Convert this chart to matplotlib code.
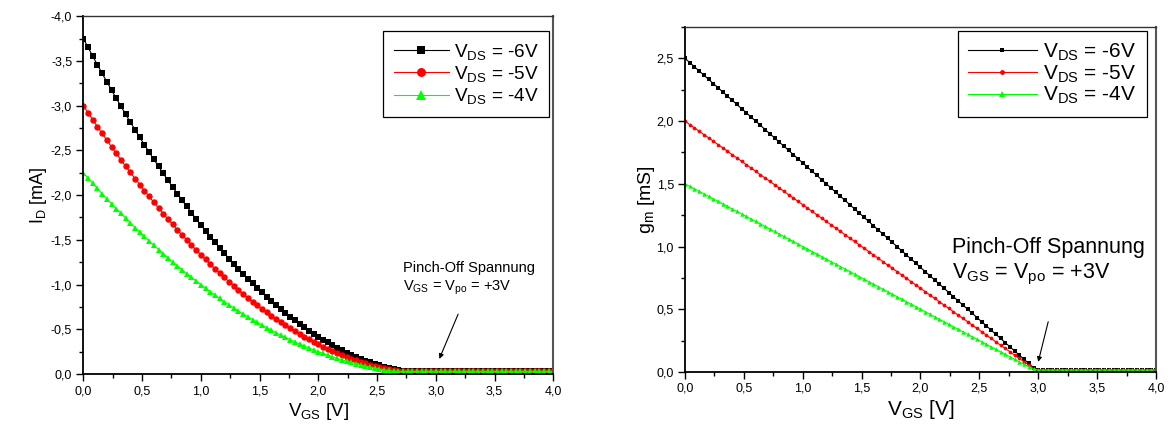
import matplotlib
matplotlib.use("Agg")
import matplotlib.pyplot as plt
from matplotlib.ticker import MultipleLocator, FuncFormatter

plt.rcParams['font.family'] = ['Liberation Sans', 'DejaVu Sans']
plt.rcParams['mathtext.fontset'] = 'custom'
plt.rcParams['mathtext.rm'] = 'Liberation Sans'
plt.rcParams['mathtext.it'] = 'Liberation Sans'
plt.rcParams['mathtext.bf'] = 'Liberation Sans:bold'

# ---------------- data ----------------
vgs = [0.00, 0.04, 0.08, 0.12, 0.16, 0.20, 0.24, 0.28, 0.32, 0.36, 0.40, 0.44, 0.48, 0.52, 0.56,
       0.60, 0.64, 0.68, 0.72, 0.76, 0.80, 0.84, 0.88, 0.92, 0.96, 1.00, 1.04, 1.08, 1.12, 1.16,
       1.20, 1.24, 1.28, 1.32, 1.36, 1.40, 1.44, 1.48, 1.52, 1.56, 1.60, 1.64, 1.68, 1.72, 1.76,
       1.80, 1.84, 1.88, 1.92, 1.96, 2.00, 2.04, 2.08, 2.12, 2.16, 2.20, 2.24, 2.28, 2.32, 2.36,
       2.40, 2.44, 2.48, 2.52, 2.56, 2.60, 2.64, 2.68, 2.72, 2.76, 2.80, 2.84, 2.88, 2.92, 2.96,
       3.00, 3.04, 3.08, 3.12, 3.16, 3.20, 3.24, 3.28, 3.32, 3.36, 3.40, 3.44, 3.48, 3.52, 3.56,
       3.60, 3.64, 3.68, 3.72, 3.76, 3.80, 3.84, 3.88, 3.92, 3.96, 4.00]

# values beyond pinch-off (V_GS >= 3 V), as they appear just above the axis
id_tail = [-0.03, -0.03, -0.03, -0.03, -0.03, -0.03, -0.03, -0.03, -0.03, -0.03, -0.03, -0.03, -0.03,
           -0.03, -0.03, -0.03, -0.03, -0.03, -0.03, -0.03, -0.03, -0.03, -0.03, -0.03, -0.03, -0.03]
gm_tail = [0.015, 0.015, 0.015, 0.015, 0.015, 0.015, 0.015, 0.015, 0.015, 0.015, 0.015, 0.015, 0.015,
           0.015, 0.015, 0.015, 0.015, 0.015, 0.015, 0.015, 0.015, 0.015, 0.015, 0.015, 0.015, 0.015]

# drain current I_D [mA] (negative values)
id_vds6 = [-3.750, -3.651, -3.553, -3.456, -3.361, -3.267, -3.174, -3.083, -2.993, -2.904,
           -2.817, -2.731, -2.646, -2.563, -2.481, -2.400, -2.321, -2.243, -2.166, -2.091,
           -2.017, -1.944, -1.873, -1.803, -1.734, -1.667, -1.601, -1.536, -1.473, -1.411,
           -1.350, -1.291, -1.233, -1.176, -1.121, -1.067, -1.014, -0.963, -0.913, -0.864,
           -0.817, -0.771, -0.726, -0.683, -0.641, -0.600, -0.561, -0.523, -0.486, -0.451,
           -0.417, -0.384, -0.353, -0.323, -0.294, -0.267, -0.241, -0.216, -0.193, -0.171,
           -0.150, -0.131, -0.113, -0.096, -0.081, -0.067, -0.054, -0.043, -0.035, -0.030,
           -0.030, -0.030, -0.030, -0.030, -0.030] + id_tail
id_vds5 = [-3.000, -2.921, -2.842, -2.765, -2.689, -2.613, -2.539, -2.466, -2.394, -2.323,
           -2.253, -2.185, -2.117, -2.050, -1.985, -1.920, -1.857, -1.794, -1.733, -1.673,
           -1.613, -1.555, -1.498, -1.442, -1.387, -1.333, -1.281, -1.229, -1.178, -1.129,
           -1.080, -1.033, -0.986, -0.941, -0.897, -0.853, -0.811, -0.770, -0.730, -0.691,
           -0.653, -0.617, -0.581, -0.546, -0.513, -0.480, -0.449, -0.418, -0.389, -0.361,
           -0.333, -0.307, -0.282, -0.258, -0.235, -0.213, -0.193, -0.173, -0.154, -0.137,
           -0.120, -0.105, -0.090, -0.077, -0.065, -0.053, -0.043, -0.035, -0.030, -0.030,
           -0.030, -0.030, -0.030, -0.030, -0.030] + id_tail
id_vds4 = [-2.250, -2.190, -2.132, -2.074, -2.016, -1.960, -1.904, -1.850, -1.796, -1.742,
           -1.690, -1.638, -1.588, -1.538, -1.488, -1.440, -1.392, -1.346, -1.300, -1.254,
           -1.210, -1.166, -1.124, -1.082, -1.040, -1.000, -0.960, -0.922, -0.884, -0.846,
           -0.810, -0.774, -0.740, -0.706, -0.672, -0.640, -0.608, -0.578, -0.548, -0.518,
           -0.490, -0.462, -0.436, -0.410, -0.384, -0.360, -0.336, -0.314, -0.292, -0.270,
           -0.250, -0.230, -0.212, -0.194, -0.176, -0.160, -0.144, -0.130, -0.116, -0.102,
           -0.090, -0.078, -0.068, -0.058, -0.048, -0.040, -0.034, -0.030, -0.030, -0.030,
           -0.030, -0.030, -0.030, -0.030, -0.030] + id_tail

# transconductance g_m [mS]
gm_vds6 = [2.500, 2.467, 2.433, 2.400, 2.367, 2.333, 2.300, 2.267, 2.233, 2.200,
           2.167, 2.133, 2.100, 2.067, 2.033, 2.000, 1.967, 1.933, 1.900, 1.867,
           1.833, 1.800, 1.767, 1.733, 1.700, 1.667, 1.633, 1.600, 1.567, 1.533,
           1.500, 1.467, 1.433, 1.400, 1.367, 1.333, 1.300, 1.267, 1.233, 1.200,
           1.167, 1.133, 1.100, 1.067, 1.033, 1.000, 0.967, 0.933, 0.900, 0.867,
           0.833, 0.800, 0.767, 0.733, 0.700, 0.667, 0.633, 0.600, 0.567, 0.533,
           0.500, 0.467, 0.433, 0.400, 0.367, 0.333, 0.300, 0.267, 0.233, 0.200,
           0.167, 0.133, 0.100, 0.067, 0.033] + gm_tail
gm_vds5 = [2.000, 1.973, 1.947, 1.920, 1.893, 1.867, 1.840, 1.813, 1.787, 1.760,
           1.733, 1.707, 1.680, 1.653, 1.627, 1.600, 1.573, 1.547, 1.520, 1.493,
           1.467, 1.440, 1.413, 1.387, 1.360, 1.333, 1.307, 1.280, 1.253, 1.227,
           1.200, 1.173, 1.147, 1.120, 1.093, 1.067, 1.040, 1.013, 0.987, 0.960,
           0.933, 0.907, 0.880, 0.853, 0.827, 0.800, 0.773, 0.747, 0.720, 0.693,
           0.667, 0.640, 0.613, 0.587, 0.560, 0.533, 0.507, 0.480, 0.453, 0.427,
           0.400, 0.373, 0.347, 0.320, 0.293, 0.267, 0.240, 0.213, 0.187, 0.160,
           0.133, 0.107, 0.080, 0.053, 0.027] + gm_tail
gm_vds4 = [1.50, 1.48, 1.46, 1.44, 1.42, 1.40, 1.38, 1.36, 1.34, 1.32,
           1.30, 1.28, 1.26, 1.24, 1.22, 1.20, 1.18, 1.16, 1.14, 1.12,
           1.10, 1.08, 1.06, 1.04, 1.02, 1.00, 0.98, 0.96, 0.94, 0.92,
           0.90, 0.88, 0.86, 0.84, 0.82, 0.80, 0.78, 0.76, 0.74, 0.72,
           0.70, 0.68, 0.66, 0.64, 0.62, 0.60, 0.58, 0.56, 0.54, 0.52,
           0.50, 0.48, 0.46, 0.44, 0.42, 0.40, 0.38, 0.36, 0.34, 0.32,
           0.30, 0.28, 0.26, 0.24, 0.22, 0.20, 0.18, 0.16, 0.14, 0.12,
           0.10, 0.08, 0.06, 0.04, 0.02] + gm_tail

series_labels = [r'$\mathregular{V_{DS}}$ = -6V', r'$\mathregular{V_{DS}}$ = -5V',
                 r'$\mathregular{V_{DS}}$ = -4V']
colors = ['#000000', '#FF0000', '#00FF00']
markers = ['s', 'o', '^']

# ---------------- figure ----------------
fig = plt.figure(figsize=(11.72, 4.37), dpi=100)
ax1 = fig.add_axes([0.0711, 0.144, 0.401, 0.819])
ax2 = fig.add_axes([0.5845, 0.149, 0.4018, 0.789])

comma = FuncFormatter(lambda v, p: ('%.1f' % v).replace('.', ',').replace('-0,0', '0,0'))

for ys, c, m, lab in zip([id_vds6, id_vds5, id_vds4], colors, markers, series_labels):
    ax1.plot(vgs, ys, color=c, marker=m, markersize=4.6 if m != '^' else 5.0,
             linewidth=0.8, markeredgewidth=0, label=lab, zorder=2)
for ys, c, m, lab in zip([gm_vds6, gm_vds5, gm_vds4], colors, markers, series_labels):
    ax2.plot(vgs, ys, color=c, marker=m, markersize=2.7 if m != '^' else 3.2,
             linewidth=0.8, markeredgewidth=0, label=lab, zorder=2)

ax1.set_xlim(0, 4)
ax1.set_ylim(0, -4)
ax2.set_xlim(0, 4)
ax2.set_ylim(0, 2.75)

for ax in (ax1, ax2):
    ax.xaxis.set_major_locator(MultipleLocator(0.5))
    ax.xaxis.set_minor_locator(MultipleLocator(0.25))
    ax.yaxis.set_major_locator(MultipleLocator(0.5))
    ax.yaxis.set_minor_locator(MultipleLocator(0.25))
    ax.xaxis.set_major_formatter(comma)
    ax.yaxis.set_major_formatter(comma)
    ax.tick_params(which='major', direction='out', length=5, width=1.0, labelsize=9,
                   colors='#000000', pad=3)
    ax.tick_params(which='minor', direction='out', length=3, width=1.0)
    ax.tick_params(top=False, right=False)
    ax.spines['left'].set_linewidth(1.3)
    ax.spines['bottom'].set_linewidth(1.3)
    ax.spines['top'].set_linewidth(1.0)
    ax.spines['right'].set_linewidth(1.5)
    ax.spines['top'].set_color('#333333')
    ax.spines['right'].set_color('#555555')

ax1.set_xlabel(r'$\mathregular{V_{GS}}$ [V]', fontsize=13.5, labelpad=3)
ax1.set_ylabel(r'$\mathregular{I_{D}}$ [mA]', fontsize=13, labelpad=1)
ax2.set_xlabel(r'$\mathregular{V_{GS}}$ [V]', fontsize=15, labelpad=2)
ax2.set_ylabel(r'$\mathregular{g_{m}}$ [mS]', fontsize=14, labelpad=0)

leg1 = ax1.legend(loc='upper right', bbox_to_anchor=(0.991, 0.958), fontsize=13.7,
                  frameon=True, fancybox=False, edgecolor='#000000', framealpha=1,
                  handlelength=2.9, handletextpad=0.25, labelspacing=0.12,
                  borderpad=0.55, markerscale=1.4, borderaxespad=0)
leg1.get_frame().set_linewidth(0.9)
leg2 = ax2.legend(loc='upper right', bbox_to_anchor=(0.98, 0.988), fontsize=15,
                  frameon=True, fancybox=False, edgecolor='#000000', framealpha=1,
                  handlelength=3.3, handletextpad=0.3, labelspacing=0.02,
                  borderpad=0.5, markerscale=1.3, borderaxespad=0)
leg2.get_frame().set_linewidth(0.9)

# annotations
ax1.text(2.72, -1.18, 'Pinch-Off Spannung', fontsize=10.5, ha='left', va='center')
ax1.text(2.72, -0.96, r'$\mathregular{V_{GS}}$ = $\mathregular{V_{po}}$ = +3V', fontsize=10.5,
         ha='left', va='center')
ax1.annotate('', xy=(3.03, -0.17), xytext=(3.19, -0.67),
             arrowprops=dict(arrowstyle='-|>', color='#000000', lw=0.8,
                             mutation_scale=7, shrinkA=0, shrinkB=0))

ax2.text(2.265, 0.99, 'Pinch-Off Spannung', fontsize=15.5, ha='left', va='center')
ax2.text(2.265, 0.78, r'$\mathregular{V_{GS}}$ = $\mathregular{V_{po}}$ = +3V', fontsize=15.5,
         ha='left', va='center')
ax2.annotate('', xy=(3.0, 0.08), xytext=(3.085, 0.40),
             arrowprops=dict(arrowstyle='-|>', color='#000000', lw=0.8,
                             mutation_scale=7, shrinkA=0, shrinkB=0))

fig.savefig('out.png', dpi=100)
